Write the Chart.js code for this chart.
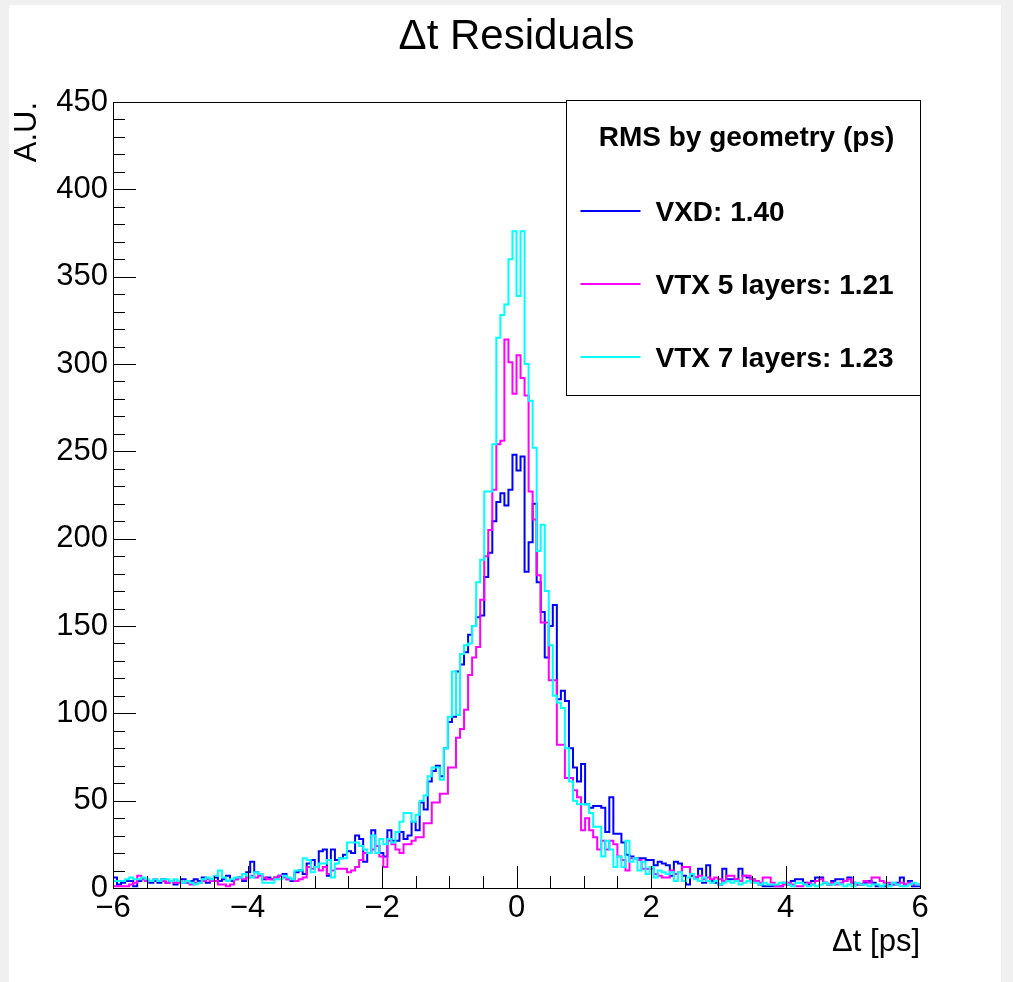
<!DOCTYPE html>
<html>
<head>
<meta charset="utf-8">
<script src="https://cdn.jsdelivr.net/npm/chart.js@4.4.1/dist/chart.umd.min.js"></script>
<style>
  html, body { margin: 0; padding: 0; background: #f0f0f0; width: 1013px; height: 982px; overflow: hidden; }
  #wrap { position: absolute; left: 9px; top: 5px; width: 992px; height: 977px; background: #ffffff; }
  canvas { display: block; }
</style>
</head>
<body>
<div id="wrap"><canvas id="c" width="992" height="977"></canvas></div>
<script>
// ---- Data (200 bins from -6 to 6 ps) ----
const binLow = -6;
const binHigh = 6;

const seriesNames = ['VXD: 1.40', 'VTX 5 layers: 1.21', 'VTX 7 layers: 1.23'];
const seriesColors = ['#0000ff', '#ff00ff', '#00ffff'];

const vxd = [
  6,2,3,4,4,1,4,5,4,3,
  4,3,5,3,4,2,4,5,3,4,
  5,4,6,3,5,6,4,5,7,4,
  5,6,4,9,15,9,8,5,6,5,
  6,7,8,5,4,9,10,8,14,16,
  12,21,22,7,22,16,17,19,21,20,
  30,28,15,20,33,24,20,18,33,27,
  27,32,28,30,38,33,49,45,61,67,
  70,64,80,95,98,124,128,135,145,150,
  155,156,178,192,210,221,226,219,228,248,
  239,247,181,198,220,175,158,132,150,162,
  108,113,107,80,69,61,71,48,46,47,
  47,46,32,52,31,31,26,19,18,17,
  17,17,16,16,13,15,14,13,7,15,
  14,7,2,7,6,11,3,13,4,3,
  2,11,5,5,5,11,7,6,5,4,
  2,1,1,1,1,1,3,2,4,5,
  5,3,2,4,6,6,3,2,4,5,
  5,4,6,3,2,2,3,4,3,1,
  1,1,2,2,3,6,2,4,1,1
];

const vtx5 = [
  1,1,1,1,2,3,7,5,4,4,
  5,4,4,3,4,3,3,3,3,2,
  3,3,4,5,4,4,2,2,1,2,
  5,6,5,6,7,6,7,6,5,5,
  6,7,6,5,5,4,5,6,12,11,
  12,10,12,8,10,11,11,11,9,10,
  12,16,20,20,22,24,18,12,27,25,
  22,20,25,25,27,29,29,37,37,49,
  49,54,54,69,69,86,91,102,122,132,
  138,165,190,205,228,254,256,314,301,283,
  305,292,282,227,211,179,152,152,119,119,
  82,82,63,63,56,52,33,40,33,29,
  22,27,22,27,25,18,16,10,17,17,
  16,11,11,11,8,7,6,6,10,8,
  9,12,12,8,6,7,5,6,5,6,
  5,4,7,7,5,4,7,7,5,4,
  3,6,6,3,1,1,2,3,2,1,
  1,2,3,2,4,5,3,2,3,2,
  3,4,5,3,2,2,4,3,6,6,
  4,3,3,2,2,3,2,3,2,2
];

const vtx7 = [
  4,4,4,5,6,5,5,6,5,4,
  5,4,5,5,4,5,4,3,4,3,
  2,3,5,6,5,7,10,6,4,5,
  6,6,8,7,6,9,8,3,3,3,
  5,5,7,6,5,10,10,17,16,9,
  12,14,14,16,6,14,17,17,26,26,
  26,24,22,20,30,20,28,25,28,26,
  32,38,43,43,38,42,50,53,64,69,
  69,62,80,98,124,99,134,139,140,150,
  175,188,227,227,254,315,328,334,360,376,
  339,376,300,279,252,193,208,170,139,110,
  106,103,80,61,50,48,48,48,43,35,
  35,18,27,22,12,18,12,27,15,17,
  10,15,8,12,6,10,9,8,9,4,
  9,4,6,8,5,4,6,4,3,4,
  2,3,4,3,4,2,3,4,3,3,
  2,3,2,2,2,3,3,2,1,3,
  3,2,1,2,1,2,3,2,2,3,
  2,1,2,1,3,2,2,1,2,2,
  1,2,1,3,2,1,1,2,3,2
];

const xTickValues = [-6, -4, -2, 0, 2, 4, 6];
const xTickLabels = ['\u22126', '\u22124', '\u22122', '0', '2', '4', '6'];
const yTickValues = [0, 50, 100, 150, 200, 250, 300, 350, 400, 450];
const yTickLabels = ['0', '50', '100', '150', '200', '250', '300', '350', '400', '450'];

const chartTitle = '\u0394t Residuals';
const xTitle = '\u0394t [ps]';
const yTitle = 'A.U.';
const legendTitle = 'RMS by geometry (ps)';

// ---- helpers ----
function toSteps(vals) {
  const w = (binHigh - binLow) / vals.length;
  const pts = vals.map((v, i) => ({ x: binLow + i * w, y: v }));
  pts.push({ x: binHigh, y: vals[vals.length - 1] });
  return pts;
}

const FONT = "'Liberation Sans', Arial, Helvetica, sans-serif";
Chart.defaults.font.family = FONT;
Chart.defaults.color = '#000';

const rootDecor = {
  id: 'rootDecor',
  afterDraw(chart) {
    const ctx = chart.ctx;
    const ca = chart.chartArea;
    const xs = chart.scales.x, ys = chart.scales.y;
    ctx.save();
    ctx.strokeStyle = '#000';
    ctx.lineWidth = 1;
    // y ticks (inward)
    for (let v = 0; v <= 450; v += 10) {
      const py = Math.round(ys.getPixelForValue(v)) + 0.5;
      const len = (v % 50 === 0) ? 23 : 12;
      ctx.beginPath();
      ctx.moveTo(ca.left, py);
      ctx.lineTo(ca.left + len, py);
      ctx.stroke();
    }
    // x ticks (inward)
    for (let k = 0; k <= 24; k++) {
      const v = -6 + k * 0.5;
      const px = Math.round(xs.getPixelForValue(v)) + 0.5;
      const len = (k % 4 === 0) ? 22 : 12;
      ctx.beginPath();
      ctx.moveTo(px, ca.bottom);
      ctx.lineTo(px, ca.bottom - len);
      ctx.stroke();
    }
    // frame
    ctx.strokeRect(Math.round(ca.left) + 0.5, Math.round(ca.top) + 0.5,
                   Math.round(ca.right - ca.left), Math.round(ca.bottom - ca.top));

    // legend box
    const L = Math.round(ca.right - 354) + 0.5, T = Math.round(ca.top - 2) + 0.5;
    const R = Math.round(ca.right) + 0.5, B = Math.round(ca.top + 293) + 0.5;
    ctx.fillStyle = '#fff';
    ctx.fillRect(L, T, R - L, B - T);
    ctx.strokeStyle = '#000';
    ctx.strokeRect(L, T, R - L, B - T);
    ctx.fillStyle = '#000';
    ctx.font = 'bold 28px ' + FONT;
    ctx.textBaseline = 'middle';
    ctx.textAlign = 'center';
    ctx.fillText(legendTitle, (L + R) / 2 + 3, ca.top + 36);
    ctx.textAlign = 'left';
    const rows = [ca.top + 109, ca.top + 182, ca.top + 255];
    for (let i = 0; i < 3; i++) {
      ctx.strokeStyle = seriesColors[i];
      ctx.lineWidth = 2;
      ctx.beginPath();
      ctx.moveTo(L + 14, rows[i]);
      ctx.lineTo(L + 74, rows[i]);
      ctx.stroke();
      ctx.fillStyle = '#000';
      ctx.fillText(seriesNames[i], L + 89, rows[i] + 2);
    }
    ctx.restore();
  }
};

new Chart(document.getElementById('c'), {
  type: 'line',
  data: {
    datasets: [
      { label: seriesNames[0], data: toSteps(vxd), borderColor: seriesColors[0], order: 3 },
      { label: seriesNames[1], data: toSteps(vtx5), borderColor: seriesColors[1], order: 2 },
      { label: seriesNames[2], data: toSteps(vtx7), borderColor: seriesColors[2], order: 1 }
    ].map(d => Object.assign(d, { stepped: 'before', borderWidth: 2, pointRadius: 0, fill: false, tension: 0 }))
  },
  options: {
    responsive: false,
    animation: false,
    layout: { padding: { left: 0, right: 81, top: 0, bottom: 0 } },
    plugins: {
      legend: { display: false },
      tooltip: { enabled: false },
      title: {
        display: true,
        fullSize: false,
        text: chartTitle,
        color: '#000',
        font: { family: FONT, size: 42, weight: 'normal' },
        padding: { top: 7, bottom: 39.6 }
      }
    },
    scales: {
      x: {
        type: 'linear',
        min: -6, max: 6,
        grid: { display: false, drawTicks: false },
        border: { display: false },
        afterBuildTicks: s => { s.ticks = xTickValues.map(v => ({ value: v })); },
        afterFit: s => { s.height = 94; },
        ticks: {
          autoSkip: false, maxRotation: 0, padding: 2,
          color: '#000',
          font: { family: FONT, size: 31 },
          callback: (v, i) => xTickLabels[i]
        },
        title: {
          display: true, text: xTitle, align: 'end', color: '#000',
          font: { family: FONT, size: 31 },
          padding: { top: 0, bottom: 21 }
        }
      },
      y: {
        type: 'linear',
        min: 0, max: 450,
        grid: { display: false, drawTicks: false },
        border: { display: false },
        afterBuildTicks: s => { s.ticks = yTickValues.map(v => ({ value: v })); },
        afterFit: s => { s.width = 104; },
        ticks: {
          autoSkip: false, padding: 5,
          color: '#000',
          font: { family: FONT, size: 31 },
          callback: (v, i) => yTickLabels[i]
        },
        title: {
          display: true, text: yTitle, align: 'end', color: '#000',
          font: { family: FONT, size: 31 },
          padding: { top: 0, bottom: 0 }
        }
      }
    }
  },
  plugins: [rootDecor]
});
</script>
</body>
</html>
